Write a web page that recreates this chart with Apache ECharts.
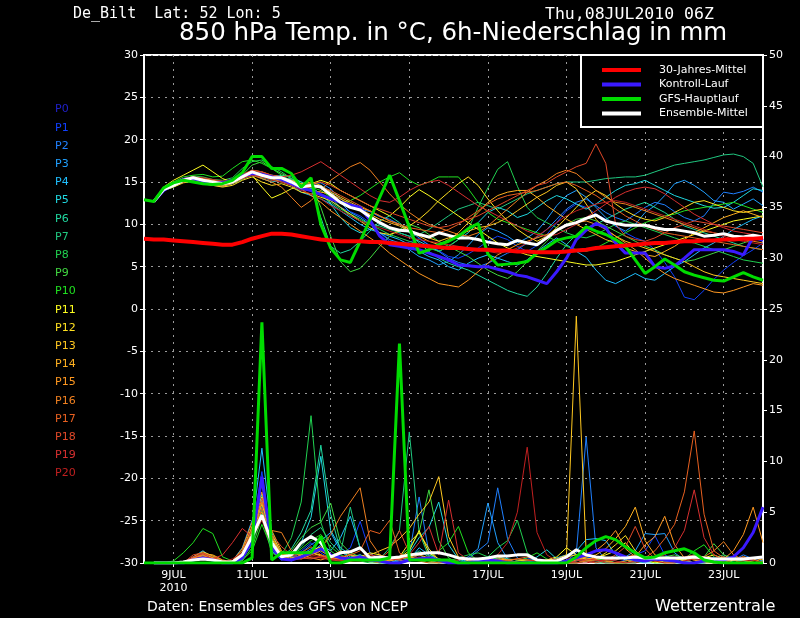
<!DOCTYPE html>
<html><head><meta charset="utf-8">
<script src="https://cdn.jsdelivr.net/npm/echarts@6/dist/echarts.min.js"></script>
<style>html,body{margin:0;padding:0;background:#000}#c{width:800px;height:618px}</style>
</head><body><div id="c"></div>
<script>
const FONT = 'DejaVu Sans';
const MONO = 'DejaVu Sans Mono';
const times = ['08/06','08/12','08/18',
'09/00','09/06','09/12','09/18','10/00','10/06','10/12','10/18',
'11/00','11/06','11/12','11/18','12/00','12/06','12/12','12/18',
'13/00','13/06','13/12','13/18','14/00','14/06','14/12','14/18',
'15/00','15/06','15/12','15/18','16/00','16/06','16/12','16/18',
'17/00','17/06','17/12','17/18','18/00','18/06','18/12','18/18',
'19/00','19/06','19/12','19/18','20/00','20/06','20/12','20/18',
'21/00','21/06','21/12','21/18','22/00','22/06','22/12','22/18',
'23/00','23/06','23/12','23/18','24/00'];
const xTickLabels = {'09/00':'9JUL\n2010','11/00':'11JUL','13/00':'13JUL','15/00':'15JUL','17/00':'17JUL','19/00':'19JUL','21/00':'21JUL','23/00':'23JUL'};
const memberNames = ['P0','P1','P2','P3','P4','P5','P6','P7','P8','P9','P10','P11','P12','P13','P14','P15','P16','P17','P18','P19','P20'];
const memberColors = ['#2020c8','#1040ff','#2080ff','#20a0ff','#20c0ff','#20d8e0','#20d8a0','#20c880','#20d050','#40d840','#20e020','#ffff20','#ffe020','#ffc820','#ffb020','#ff9820','#f08020','#e86020','#e04828','#d83030','#c02020'];
const legendNames = ['30-Jahres-Mittel','Kontroll-Lauf','GFS-Hauptlauf','Ensemble-Mittel'];

// 850 hPa temperature (°C)
const climTemp = [8.3,8.2,8.2,8.1,8.0,7.9,7.8,7.7,7.6,7.6, 7.9,8.3,8.6,8.9,8.9,8.8,8.6,8.4,8.2,8.1, 8.0,8.0,8.0,7.9,7.9,7.8,7.7,7.6,7.5,7.4, 7.3,7.2,7.2,7.1,7.0,7.0,6.9,6.9,6.8,6.8, 6.7,6.7,6.7,6.8,6.9,7.0,7.2,7.3,7.4,7.5, 7.6,7.7,7.8,7.8,7.9,8.0,8.0,8.1,8.1,8.2, 8.2,8.3,8.3,8.4];
const ctrlTemp = [null, 12.7,14.0,14.7,15.3,15.4,15.1,14.9,14.9,15.2,15.7, 16.0,15.9,15.6,15.3,14.8,14.3,14.0,13.5,13.0,12.6, 12.3,12.0,10.5,8.6,7.6,7.4,7.2,7.0,6.6,6.2, 5.8,5.2,5.1,5.0,5.0,4.7,4.4,4.0,3.8,3.4, 3.0,4.4,6.0,8.2,9.3,10.1,9.6,7.8,6.6,6.6, 6.6,5.0,4.8,5.1,6.0,7.0,7.0,7.0,7.0,6.8, 6.4,8.5,8.1];
const mainTemp = [12.9,12.7,14.3,14.9,15.2,15.0,14.8,14.7,14.8,15.2, 16.1,18.0,18.0,16.6,16.6,16.0,14.4,15.5,10.0,7.2, 5.8,5.5,8.0,10.6,13.2,15.8,12.8,9.7,6.6,7.0, 7.6,8.0,8.6,9.5,10.1,6.5,5.2,5.3,5.4,5.6, 6.6,7.3,8.1,8.4,8.6,9.7,9.2,8.8,8.2,7.4, 5.8,4.2,5.0,5.9,5.2,4.4,4.0,3.7,3.4,3.3, 3.8,4.3,3.8,3.4];
const meanTemp = [null, 12.7,14.1,14.6,15.2,15.5,15.2,15.0,14.8,15.0,15.6, 16.2,15.8,15.5,15.5,15.0,14.4,14.6,14.4,13.5,12.6, 12.0,11.7,10.9,10.2,9.6,9.3,9.2,8.8,8.5,9.0, 8.7,8.4,8.4,8.2,7.9,7.7,7.6,8.1,7.8,7.6, 8.4,9.3,9.9,10.2,10.7,11.1,10.4,10.1,9.9,9.9, 9.9,9.6,9.4,9.4,9.2,9.0,8.6,8.7,8.9,8.6, 8.5,8.7,8.5];
const t1 = [null, 12.7,14.0,14.8,15.3,15.6,15.4,15.1,14.7,14.9,15.4, 16.0,16.1,15.6,15.2,14.6,14.0,14.2,13.6,12.8,12.0, 11.5,11.0,10.2,9.0,8.0,7.5,7.9,8.3,7.6,6.9, 6.2,6.0,6.5,7.2,8.0,8.6,8.2,7.4,6.8,7.5, 8.8,10.2,11.6,12.4,12.0,11.2,10.6,9.8,9.0,8.4, 8.0,7.0,5.5,3.8,1.4,1.1,2.2,3.5,4.6,5.5, 6.3,7.0,7.8];
const t2 = [null, 12.8,14.2,14.4,15.0,15.3,15.0,14.6,14.5,14.8,15.5, 16.3,15.9,15.8,15.7,15.2,14.7,14.8,14.9,14.2,13.0, 12.2,11.8,11.5,10.9,10.6,10.0,9.2,8.4,7.5,6.8, 6.0,5.5,5.2,5.0,5.4,6.0,6.6,7.0,7.8,8.5, 9.4,10.6,11.8,12.6,13.0,12.2,11.4,10.8,10.4,11.2, 12.0,12.6,12.3,11.5,10.8,10.4,11.0,12.5,13.8,13.6, 13.9,14.4,13.8];
const t3 = [null, 12.6,14.0,14.6,15.1,15.4,15.3,15.0,14.9,15.1,15.7, 16.1,15.7,15.4,15.6,15.3,14.8,14.2,14.6,13.9,12.6, 11.4,10.8,10.0,9.0,8.2,7.8,7.0,6.2,5.8,5.2, 5.6,6.4,7.5,8.8,9.6,9.2,8.6,7.8,8.4,9.2, 10.6,12.2,13.4,14.0,13.2,12.0,10.8,9.8,9.2,10.0, 11.4,12.2,13.4,14.8,15.2,14.6,13.8,12.8,12.6,11.8, 12.4,13.0,12.2];
const t4 = [null, 12.7,14.2,14.7,15.4,15.6,15.0,14.8,14.9,15.2,15.8, 16.4,15.6,15.2,15.0,14.6,13.8,13.4,13.0,12.4,11.6, 10.8,10.0,9.4,9.0,8.6,8.2,7.6,6.8,6.2,5.8, 5.0,4.6,5.4,6.0,6.4,6.0,5.6,5.2,5.8,6.8, 7.6,8.4,7.6,6.8,6.1,4.6,3.4,3.0,3.6,4.2, 3.6,3.4,4.2,5.0,5.6,6.4,7.2,7.8,8.6,9.4, 10.0,10.6,11.0];
const t5 = [null, 12.7,14.1,14.5,15.0,15.4,15.2,15.2,15.0,15.1,15.5, 16.0,15.4,15.0,15.2,15.4,15.0,14.4,13.6,12.4,10.8, 9.6,9.0,9.4,10.0,9.6,9.0,8.6,8.0,7.4,6.8, 7.4,8.2,9.0,10.2,11.4,12.0,11.6,10.8,11.2,12.0, 12.8,13.4,13.0,12.4,11.8,12.4,13.2,14.0,14.6,14.8, 15.2,14.6,14.0,13.4,13.0,12.6,12.2,11.9,12.0,12.6, 13.4,14.2,14.0];
const t6 = [null, 12.6,13.9,14.6,15.2,15.4,15.2,14.9,14.7,15.0,15.4, 15.8,15.5,15.4,15.8,15.6,15.0,14.2,10.8,7.4,6.6, 7.0,8.0,9.2,10.4,11.0,10.2,9.0,7.8,6.8,6.0, 5.4,5.0,4.6,4.0,3.4,2.8,2.2,1.8,1.5,2.6, 4.2,6.0,7.6,8.8,9.6,10.0,10.6,11.2,11.8,12.2, 12.6,12.0,11.4,10.6,9.8,9.4,9.0,8.6,8.2,7.8, 7.4,7.2,7.0];
const t7 = [null, 12.7,14.0,14.4,15.0,15.2,15.0,14.8,14.6,14.8,15.3, 15.8,15.6,15.2,15.2,14.8,14.2,14.6,14.4,13.2,12.0, 11.0,10.4,10.0,9.8,9.4,9.0,8.6,8.8,9.4,10.2, 11.0,11.8,12.2,12.6,12.2,11.8,12.4,13.0,13.6,14.0, 14.4,14.8,15.0,15.0,15.0,15.2,15.4,15.5,15.6,15.6, 15.8,16.2,16.6,17.0,17.2,17.4,17.6,17.9,18.2,18.3, 18.0,17.2,14.4];
const t8 = [null, 12.8,14.3,14.9,15.3,15.7,15.6,15.3,15.2,15.5,16.6, 17.4,17.6,16.8,16.2,15.4,14.6,14.0,13.4,12.6,11.8, 11.2,10.6,10.0,9.4,8.8,8.4,8.0,7.6,7.2,6.8, 7.4,8.2,9.4,12.0,14.3,16.5,17.4,14.5,12.0,10.8, 10.2,9.6,9.0,8.6,8.4,8.8,9.4,10.0,10.4,10.0, 9.6,9.2,8.8,8.4,8.0,7.8,7.4,7.0,6.6,6.2, 5.8,5.6,5.4];
const t9 = [null, 12.7,14.0,14.5,15.1,15.4,15.1,14.8,14.6,15.0,15.8, 17.0,17.4,16.6,16.0,15.4,14.6,14.8,12.0,8.6,5.6, 4.4,4.8,6.0,7.4,8.6,9.4,10.0,9.6,8.8,8.0, 7.4,6.8,6.2,5.4,4.6,4.0,3.6,4.4,5.6,6.8, 8.0,9.2,10.0,10.6,10.8,10.4,9.8,9.2,8.6,8.0, 7.4,7.0,6.4,6.0,5.6,5.8,6.2,6.6,7.0,7.4, 7.8,8.2,8.6];
const t10 = [null, 12.6,14.2,15.0,15.6,15.8,15.9,15.6,15.7,16.6,17.4, 17.6,17.2,16.6,15.8,15.0,14.6,14.4,14.0,13.2,12.6, 12.8,13.4,14.2,15.0,15.6,16.1,15.2,14.6,15.0,15.6, 15.6,15.6,14.2,12.6,11.4,10.6,10.2,9.8,9.4,9.0, 8.6,8.0,7.4,7.0,6.8,7.2,7.8,8.4,9.0,9.6, 10.2,10.6,11.0,11.2,11.6,11.8,12.0,12.2,12.4,12.6, 12.2,11.8,11.4];
const t11 = [null, 12.8,14.4,15.2,15.8,16.4,17.0,16.2,15.4,15.0,15.6, 15.8,14.4,13.1,13.6,14.2,14.6,14.8,15.2,14.8,14.0, 13.4,12.8,12.2,11.6,11.0,12.0,13.2,14.1,13.4,12.6, 11.8,11.0,10.2,9.4,8.6,7.8,7.2,6.8,6.4,6.2, 6.0,5.8,5.6,5.4,5.2,5.2,5.4,5.6,6.0,6.4, 6.8,7.2,7.6,8.0,8.4,8.8,9.2,9.6,10.0,10.4, 10.6,10.8,11.0];
const t12 = [null, 12.7,14.0,14.4,14.9,15.1,14.8,14.6,14.4,14.6,15.2, 15.6,15.0,14.6,14.8,14.4,13.8,13.6,13.2,12.8,12.0, 11.2,10.4,9.6,9.0,8.8,9.2,9.8,10.6,11.6,12.8, 13.8,14.8,15.6,14.6,13.0,11.6,10.4,9.4,8.6,8.0, 8.6,9.6,10.8,12.0,13.2,14.0,13.4,12.4,11.6,11.0, 10.6,10.4,10.8,11.4,12.0,12.6,12.8,12.4,12.0,11.6, 11.4,11.6,11.8];
const t13 = [null, 12.6,14.1,14.8,15.4,15.6,15.4,15.2,15.0,15.2,15.8, 16.4,16.2,15.8,15.6,15.2,14.8,15.0,14.6,13.8,13.2, 12.6,12.0,11.6,11.0,10.4,10.0,9.4,8.8,8.4,8.0, 8.4,8.8,9.2,9.6,9.8,10.2,10.8,11.6,12.4,13.2, 13.8,14.6,15.0,14.2,12.4,10.6,9.4,8.6,8.0,7.6, 7.2,6.8,6.4,6.0,5.6,5.0,4.4,4.0,3.8,3.6, 3.4,3.2,3.0];
const t14 = [null, 12.7,14.2,14.6,15.0,15.4,15.0,14.7,14.5,14.8,15.4, 15.9,15.6,15.6,15.4,15.0,14.4,14.0,13.8,13.6,13.0, 12.4,11.8,11.2,10.6,10.2,9.8,9.2,8.6,8.0,7.6, 8.2,9.0,10.2,11.4,12.6,13.4,13.8,14.0,14.0,13.2, 12.2,11.4,10.6,10.0,9.4,8.8,8.2,7.8,7.2,6.8, 6.4,6.2,6.8,7.4,8.2,9.0,9.6,10.2,10.8,11.2, 11.6,11.2,10.8];
const t15 = [null, 12.8,14.0,14.5,15.1,15.4,15.2,15.0,14.8,15.0,15.6, 16.2,16.0,15.4,15.0,14.6,14.2,13.4,12.6,11.6,10.8, 10.0,9.2,8.4,7.6,6.6,5.8,5.0,4.2,3.6,3.0, 2.8,2.6,3.4,4.4,5.4,6.4,7.0,7.6,8.0,8.4, 8.8,9.2,9.8,10.2,10.4,10.0,9.4,8.6,7.8,7.0, 6.0,5.0,4.2,3.6,3.2,2.8,2.4,2.0,1.9,2.2, 2.6,3.0,2.8];
const t16 = [null, 12.7,14.1,14.7,15.2,15.4,15.1,14.8,14.6,14.9,15.5, 15.8,15.4,15.0,14.4,13.2,12.0,12.8,14.0,15.2,16.0, 16.8,17.3,16.4,15.0,13.6,12.4,11.4,10.6,10.0,9.6, 9.2,8.8,8.6,9.0,9.8,10.8,11.8,12.8,13.8,14.6, 15.2,16.0,16.4,16.0,15.0,14.0,13.2,12.6,12.4,12.0, 11.6,11.2,10.8,10.4,10.0,9.6,9.2,9.0,8.8,8.4, 8.2,8.0,7.8];
const t17 = [null, 12.6,14.0,14.6,15.1,15.3,15.1,14.9,14.7,15.0,15.6, 16.0,15.8,15.4,15.2,14.8,14.2,14.4,14.4,14.0,13.4, 12.8,12.2,11.6,11.0,10.4,10.0,9.6,9.4,9.2,9.0, 9.4,10.0,10.8,11.6,12.4,13.0,13.4,13.6,13.8,14.0, 14.4,14.8,15.0,14.6,14.0,13.4,12.6,11.8,11.0,10.4, 9.8,9.4,9.0,8.8,8.6,8.4,8.2,8.0,7.8,7.6, 7.4,7.2,7.0];
const t18 = [null, 12.7,14.2,14.8,15.3,15.5,15.3,15.1,15.0,15.2,15.8, 16.2,16.0,15.6,15.4,15.0,14.6,14.8,15.0,14.6,14.0, 13.4,12.8,12.2,11.8,11.4,11.0,10.6,10.2,9.8,9.6, 9.8,10.2,10.6,11.0,11.6,12.2,12.8,13.4,14.0,14.6, 14.9,15.6,16.2,16.8,17.2,19.5,17.2,10.0,8.6,8.2, 8.0,8.4,9.0,9.6,10.0,10.4,10.2,10.0,9.8,9.6, 9.4,9.2,9.0];
const t19 = [null, 12.8,14.3,14.9,15.4,15.6,15.5,15.3,15.1,15.3,15.9, 16.4,16.2,15.8,15.6,15.8,16.2,16.8,17.4,16.6,15.8, 15.0,14.2,13.4,12.8,12.6,13.2,14.0,14.6,15.0,15.2, 14.6,13.8,13.0,12.2,11.6,11.0,10.4,9.8,9.2,8.8, 8.6,8.8,9.4,10.0,10.8,11.6,12.4,13.2,13.8,14.2, 14.4,14.2,13.6,12.8,12.0,11.2,10.6,10.0,9.6,9.2, 9.0,8.8,8.6];
const t20 = [null, 12.7,14.1,14.6,15.0,15.3,15.0,14.8,14.7,14.9,15.4, 15.8,15.6,15.2,15.0,14.6,14.0,13.6,13.0,12.2,11.6, 11.0,10.4,10.0,9.6,9.2,8.8,8.4,8.2,8.0,7.8, 7.6,7.4,7.2,7.0,6.8,6.6,6.8,7.2,7.8,8.6, 9.4,10.2,11.0,11.6,12.0,12.4,12.6,12.8,12.6,12.2, 11.8,11.4,11.0,10.6,10.2,9.8,9.4,9.0,8.6,8.2, 8.0,7.8,7.6];

// 6h precipitation (mm)
const ctrlPrecip = [null,0,0,0,0,0.3,0.5,0.3, 0,0,0.5,2.2,8.5,1.6,0.4,0.3, 0.6,1.0,1.4,0.8,0.5,0.4,0.6,0.3, 0.2,0,0,0.3,0.4,0.5,0.3,0, 0,0,0.2,0.3,0.2,0,0,0, 0,0,0,0.2,0.5,0.8,1.2,1.3, 1.0,0.6,0.3,0.2,0.4,0.3,0.2,0, 0,0.2,0.4,0.3,0.6,1.5,3.0,5.5];
const mainPrecip = [0,0,0,0,0,0,0,0, 0,0,0,0.5,23.7,0.3,1.0,1.0, 1.0,1.0,2.6,0,0,0.3,0.3,0.3, 0.3,0.5,21.6,0.3,0.3,0.3,0.3,0.3, 0,0,0,0,0,0,0,0, 0,0,0,0,0.6,1.5,2.2,2.6, 2.3,1.6,1.0,0.5,0.6,1.0,1.2,1.4, 1.0,0.3,0.1,0,0,0,0,0];
const meanPrecip = [null,0,0,0,0.1,0.3,0.4,0.3, 0.1,0.1,0.8,2.6,4.7,2.0,0.6,0.8, 2.0,2.6,2.0,0.6,1.0,1.1,1.5,0.5, 0.6,0.5,0.6,0.8,0.9,1.0,1.0,0.8, 0.5,0.4,0.4,0.5,0.7,0.7,0.8,0.8, 0.3,0.2,0.2,0.6,1.3,0.8,0.6,0.5, 0.5,0.5,0.6,0.5,0.5,0.5,0.5,0.5, 0.6,0.5,0.4,0.4,0.4,0.4,0.5,0.6];
const r1 = [null,0,0,0,0,0.3,0.5,0.2, 0,0,0.6,3.0,9.0,1.5,0.4,0.6, 1.2,2.0,1.0,0.4,0.8,1.5,4.1,1.0, 0.3,0,0,0.2,0.5,0.3,0,0, 0,0.2,0.4,0.3,0,0,0.2,0.5, 0.2,0,0,0,0.3,0.6,0.4,0.2, 0,0.3,0.8,1.2,2.7,0.8,0.3,0, 0,0,0.2,0.4,0,0,0.3,0.5];
const r2 = [null,0,0,0,0,0.2,0.6,0.3, 0,0,0.3,2.2,5.5,1.2,0.3,0.5, 1.0,1.8,2.4,0.6,0.3,0.5,0.8,0.4, 0,0,0.3,0.8,6.5,1.0,0.2,0, 0,0.4,1.2,2.0,7.4,2.4,0.5,0, 0,0,0,0.2,1.0,12.4,1.5,0.3, 0,0,0.2,0.5,0.3,0,0,0.2, 0.4,0.2,0,0,0.3,0.8,0.4,0];
const r3 = [null,0,0,0,0,0.4,0.8,0.4, 0.1,0.2,1.5,4.2,6.2,2.0,0.6,0.2, 0.8,1.4,2.2,3.0,1.2,0.4,0.3,0.2, 0,0,0.2,0.4,0.8,0.3,0,0, 0.2,0.6,1.4,5.9,2.0,0.4,0,0.2, 0,0,0,0,0.4,0.2,0,0, 0.3,0.6,1.2,2.9,2.8,2.9,1.0,0.3, 0,0,0.2,0.6,0.3,0,0,0.2];
const r4 = [null,0,0,0,0,0.6,1.2,0.5, 0.2,0,1.0,3.5,11.3,3.0,0.8,0.3, 0.6,1.0,1.8,1.2,2.5,4.6,1.5,0.6, 0.2,0,0,0.3,1.5,0.8,0.3,0, 0,0,0.3,0.6,0.4,0,0,0, 0,0.2,0.5,0.8,1.2,2.3,2.4,2.2, 0.8,0.3,0.2,0.4,0.6,0.2,0,0, 0,0.2,0.5,0.3,0,0,0,0.3];
const r5 = [null,0,0,0,0,0.5,0.8,0.3, 0,0,0.8,2.8,6.8,1.8,0.4,0.8, 2.0,4.5,10.5,3.2,1.5,0.8,0.4,0.3, 0.2,0,0.4,1.0,2.5,3.5,6.0,1.8, 0.4,0,0.3,0.6,0.3,0,0,0, 0.6,1.3,0.4,0,0,0.2,0.4,0.3, 0,0,0.2,0,0,0.3,0.5,0.2, 0,0,0,0.3,0.4,0.2,0,0];
const r6 = [null,0,0,0,0,0.3,0.7,0.6, 0.2,0,0.6,2.4,4.8,2.2,0.6,1.4, 3.0,5.2,11.6,4.8,1.2,0.6,0.8,0.4, 0.2,0,0,0.5,1.2,0.6,0.2,0, 0,0,0.2,0.4,0.6,0.4,0.3,0.2, 0,0,0,0,0.2,0.5,0.3,0, 0,0.2,0.4,0.3,0,0,0.2,0.5, 0.8,0.4,0,0,0.2,0.3,0,0];
const r7 = [null,0,0,0,0,0.2,0.4,0.2, 0,0,0.5,2.0,6.0,1.4,0.3,0.8, 1.6,2.8,3.5,2.0,1.0,5.5,1.4,0.5, 0.4,1.5,3.2,12.9,3.0,0.6,0.2,0, 0,0,0,0.3,0.5,0.2,0,0, 0,0,0,0,0.3,0.4,0.2,0, 0,0,0,0.3,0.6,0.4,0.2,0, 0,0.3,0.5,0.8,0.4,0,0,0];
const r8 = [null,0,0,0,0,0.4,1.0,0.6, 0,0,0.4,1.8,5.2,1.6,0.8,2.5, 6.0,14.5,4.0,1.2,0.5,0.3,0.2,0, 0,0.2,0.5,0.4,0.3,0,0,0.2, 0.5,0.8,1.0,0.6,1.5,2.2,4.2,1.0, 0.3,0,0,0,0,0.2,0.3,0.2, 0,0,0,0.2,0.4,0.3,0,0, 0,0,0.2,0.5,0.6,0.3,0,0];
const r9 = [null,0,0,0,0,0.3,0.6,0.4, 0,0,0.2,1.5,4.5,1.0,0.5,1.2, 2.5,3.5,4.0,5.9,2.0,1.0,0.6,0.4, 0.2,0.3,0.6,1.5,3.0,7.2,2.2,0.5, 0,0,0,0.2,0.3,0,0,0, 0,0,0,0.2,0.4,0.3,0,0, 0,0,0.2,0.4,0.5,0.6,0.8,0.5, 0.4,0.6,1.9,0.8,0.3,0,0,0];
const r10 = [null,0,0,0.2,1.0,2.0,3.4,2.9, 0.6,0.2,0.3,1.2,3.8,1.4,0.4,0.8, 1.4,2.2,2.8,1.6,0.8,0.4,0.3,0.2, 0,0,0,0.2,0.4,0.6,1.2,2.0, 3.6,1.0,0.2,0,0,0,0.2,0.5, 1.0,0.4,0,0,0,0.2,0.4,0.3, 0,0,0.2,0.3,0,0,0.2,0.4, 1.2,1.8,0.6,0.2,0,0,0,0];
const r11 = [null,0,0,0,0,0.4,0.9,0.5, 0,0,0.8,2.6,6.5,2.4,0.8,0.4, 0.8,1.2,1.6,0.8,0.5,0.3,0.6,1.0, 0.8,0.4,0.5,1.2,3.2,1.0,0.4,0.2, 0,0,0.2,0.3,0,0,0,0, 0,0.3,0.6,1.5,0.8,0.4,0.5,0.8, 1.2,2.0,0.8,0.3,0,0.2,0.4,0.3, 0,0.5,0.8,0.4,0,0,0,0];
const r12 = [null,0,0,0,0,0.3,0.6,0.4, 0,0,0.6,3.2,7.9,2.0,0.5,0.3, 0.6,1.0,0.8,0.4,0.3,0.2,0.4,0.6, 0.4,0.3,0.6,2.0,3.0,1.4,0.3,0, 0,0,0.3,0.5,0.2,0,0,0, 0,0,0,0.6,0.8,0.3,0.4,1.0, 1.8,2.7,1.2,0.4,0.2,0,0,0.3, 0.6,0.4,0.2,0,0.3,0.6,0.4,0];
const r13 = [null,0,0,0,0,0.6,1.1,0.7, 0.2,0,0.9,3.0,5.8,2.8,1.0,0.6, 0.4,0.8,1.2,0.6,0.4,0.2,0.3,0.8, 1.2,1.6,2.4,3.4,4.8,6.0,8.5,2.6, 0.6,0.2,0,0,0,0,0.2,0.3, 0.2,0.3,0.4,0.8,24.3,1.0,0.3,0.2, 0,0,0.3,0.4,0.2,0,0.3,0.5, 0.3,0,0,0.2,0.4,0.3,0,0];
const r14 = [null,0,0,0,0,0.5,0.9,0.8, 0.3,0.1,1.2,3.6,5.0,3.2,1.2,0.5, 0.6,1.0,0.7,0.4,0.5,0.8,0.6,0.4, 0.3,0.2,0.4,0.6,0.8,0.5,0.3,0.2, 0,0,0,0.2,0.4,0.3,0,0, 0,0,0,0.2,0.4,0.6,0.8,1.4, 2.4,3.6,5.5,2.2,0.8,0.4,0.2,0, 0,0.2,0.4,0.6,0.3,0,0.2,0.4];
const r15 = [null,0,0,0,0,0.4,0.7,0.5, 0.1,0.2,1.4,4.0,7.0,2.6,0.8,1.0, 0.8,0.5,0.3,0.6,1.2,0.8,0.4,0.2, 0,0.3,0.5,0.6,0.4,0.2,0,0, 0,0,0.2,0.4,0.6,0.3,0,0, 0,0,0,0,0.3,0.6,1.2,2.0, 3.2,1.4,0.6,1.8,2.6,4.6,1.8,0.5, 0.3,0.2,0,0.4,1.2,2.8,5.5,2.0];
const r16 = [null,0,0,0,0,0.5,0.8,0.4, 0,0,0.7,2.8,6.0,3.2,3.0,1.2, 0.6,0.8,1.4,2.8,4.6,6.0,7.4,2.2, 0.8,0.4,0.3,0.2,0.4,0.3,0.2,0, 0,0,0,0,0.2,0.3,0.4,0.3, 0.2,0,0,0,0,0.2,0.3,0.2, 0,0.2,0.4,0.3,0.2,0,0,0.2, 0.4,0.6,1.2,2.1,0.8,0.3,0,0];
const r17 = [null,0,0,0,0,0.3,0.6,0.4, 0,0,0.5,2.4,5.4,1.8,0.6,0.8, 1.0,1.6,0.8,0.4,0.6,0.8,1.2,3.2, 2.9,4.2,1.0,0.4,0.2,0,0,0.2, 0.3,0.4,0.2,0,0,0.2,0.4,0.6, 0.3,0,0,0,0,0.3,0.5,0.4, 0.3,0.6,0.8,0.5,1.2,2.4,3.8,7.0, 13.0,4.8,1.2,0.5,0.3,0,0,0.2];
const r18 = [null,0,0,0,0,0.8,1.0,0.6, 0.2,0,1.0,3.4,6.4,2.8,1.6,0.8, 0.5,0.4,0.6,0.8,0.6,0.4,0.3,0.2, 0.4,1.2,3.2,1.0,0.4,0.6,0.3,0, 0,0,0,0.2,0.3,0.2,0,0, 0,0,0.3,0.5,0.4,0.2,0,0.3, 0.8,1.6,3.6,1.4,0.4,0.2,0.4,0.6, 0.8,0.6,0.3,0.2,0.4,0.6,0.3,0];
const r19 = [null,0,0,0,0,0.6,0.9,0.4, 0.8,2.0,3.4,2.6,4.4,2.2,0.6,0.3, 0.4,0.6,0.5,0.3,0.2,0.4,0.6,0.8, 0.6,0.4,0.3,0.8,2.0,3.6,0.8,6.2, 1.0,0.3,0,0,0,0,0,0.2, 0.3,0,0,0,0.2,0.4,0.3,0, 0,0,0.2,0.4,0.6,0.8,1.5,3.2, 7.2,2.5,0.8,0.3,0,0,0,0];
const r20 = [null,0,0,0,0,0.4,0.6,0.3, 0.1,0.4,1.0,2.6,4.2,1.8,0.6,0.4, 0.6,0.8,0.6,0.4,0.3,0.2,0.2,0.3, 0.2,0,0,0.3,0.6,0.4,0.2,0, 0,0,0,0.3,0.8,2.0,5.0,11.4, 3.0,0.8,0.2,0,0,0,0.2,0.3, 0.2,0,0,0.3,0.2,0,0,0.2, 0.4,0.3,0,0,0,0.2,0.3,0];

const memberTemps = [null,t1,t2,t3,t4,t5,t6,t7,t8,t9,t10,t11,t12,t13,t14,t15,t16,t17,t18,t19,t20];
const memberPrecips = [null,r1,r2,r3,r4,r5,r6,r7,r8,r9,r10,r11,r12,r13,r14,r15,r16,r17,r18,r19,r20];

const chart = echarts.init(document.getElementById('c'), null, {renderer:'canvas'});
const series = [];
for (let k = 1; k <= 20; k++) {
  series.push({type:'line', name:memberNames[k], data:memberPrecips[k], yAxisIndex:1, symbol:'none', lineStyle:{width:1, color:memberColors[k]}, itemStyle:{color:memberColors[k]}, z:2, silent:true});
}
for (let k = 1; k <= 20; k++) {
  series.push({type:'line', name:memberNames[k], data:memberTemps[k], yAxisIndex:0, symbol:'none', lineStyle:{width:1, color:memberColors[k]}, itemStyle:{color:memberColors[k]}, z:2, silent:true});
}
const ctrlColor = '#3a1aff', mainColor = '#00dc00', meanColor = '#ffffff', climColor = '#ff0000';
series.push({type:'line', name:'Kontroll-Lauf', data:ctrlPrecip, yAxisIndex:1, symbol:'none', lineStyle:{width:3, color:ctrlColor}, itemStyle:{color:ctrlColor}, z:3});
series.push({type:'line', name:'Kontroll-Lauf', data:ctrlTemp, yAxisIndex:0, symbol:'none', lineStyle:{width:3, color:ctrlColor}, itemStyle:{color:ctrlColor}, z:3});
series.push({type:'line', name:'Ensemble-Mittel', data:meanPrecip, yAxisIndex:1, symbol:'none', lineStyle:{width:3, color:meanColor}, itemStyle:{color:meanColor}, z:4});
series.push({type:'line', name:'Ensemble-Mittel', data:meanTemp, yAxisIndex:0, symbol:'none', lineStyle:{width:3, color:meanColor}, itemStyle:{color:meanColor}, z:4});
series.push({type:'line', name:'GFS-Hauptlauf', data:mainPrecip, yAxisIndex:1, symbol:'none', lineStyle:{width:3, color:mainColor}, itemStyle:{color:mainColor}, z:5});
series.push({type:'line', name:'GFS-Hauptlauf', data:mainTemp, yAxisIndex:0, symbol:'none', lineStyle:{width:3, color:mainColor}, itemStyle:{color:mainColor}, z:5});
series.push({type:'line', name:'30-Jahres-Mittel', data:climTemp, yAxisIndex:0, symbol:'none', lineStyle:{width:4, color:climColor}, itemStyle:{color:climColor}, z:6});

const gridLine = {show:true, lineStyle:{color:'#9a9a9a', width:1, type:[2,5]}};
const isTick = (i, v) => Object.prototype.hasOwnProperty.call(xTickLabels, v);

const graphics = [
  {type:'text', left:73, top:7, style:{text:'De_Bilt  Lat: 52 Lon: 5', fill:'#fff', font:'15px ' + MONO}},
  {type:'text', left:545, top:6, style:{text:'Thu,08JUL2010 06Z', fill:'#fff', font:'16.5px ' + MONO}},
  {type:'text', left:179, top:21, style:{text:'850 hPa Temp. in °C, 6h-Niederschlag in mm', fill:'#fff', font:'24.5px ' + FONT}},
  {type:'text', left:147, top:600, style:{text:'Daten: Ensembles des GFS von NCEP', fill:'#fff', font:'14px ' + FONT}},
  {type:'text', left:655, top:599, style:{text:'Wetterzentrale', fill:'#fff', font:'16.2px ' + FONT}},
  {type:'rect', z:150, shape:{x:581, y:55, width:182, height:72}, style:{fill:'#000', stroke:'#fff', lineWidth:2}}
];
for (let k = 0; k <= 20; k++) {
  graphics.push({type:'text', left:55, top:104 + k*18.2, style:{text:memberNames[k], fill:memberColors[k], font:'11px ' + FONT}});
}

chart.setOption({
  backgroundColor:'#000',
  animation:false,
  textStyle:{fontFamily:FONT},
  grid:{left:144, right:37, top:55, bottom:55, show:true, borderColor:'#fff', borderWidth:2, backgroundColor:'transparent'},
  legend:{data:legendNames, orient:'vertical', left:602, top:63, itemWidth:39, itemHeight:4, itemGap:0.5, icon:'rect', selectedMode:false, z:200, padding:0,
    textStyle:{color:'#fff', fontSize:11, fontFamily:FONT, lineHeight:14, padding:[0,0,0,13]}},
  graphic:graphics,
  xAxis:{type:'category', data:times, boundaryGap:false,
    axisLine:{onZero:false, lineStyle:{color:'#fff', width:2}},
    axisTick:{interval:isTick, length:4, lineStyle:{color:'#fff'}},
    axisLabel:{interval:isTick, formatter:v => xTickLabels[v] || '', color:'#fff', fontSize:11, lineHeight:13, margin:6},
    splitLine:Object.assign({interval:isTick}, gridLine)},
  yAxis:[
    {type:'value', min:-30, max:30, interval:5, position:'left',
      axisLine:{show:true, onZero:false, lineStyle:{color:'#fff', width:2}},
      axisTick:{show:true, length:4, lineStyle:{color:'#fff'}},
      axisLabel:{color:'#fff', fontSize:11, margin:6},
      splitLine:gridLine},
    {type:'value', min:0, max:50, interval:5, position:'right',
      axisLine:{show:true, onZero:false, lineStyle:{color:'#fff', width:2}},
      axisTick:{show:true, length:4, lineStyle:{color:'#fff'}},
      axisLabel:{color:'#fff', fontSize:11, margin:6},
      splitLine:{show:false}}
  ],
  series:series
});
</script>
</body></html>
